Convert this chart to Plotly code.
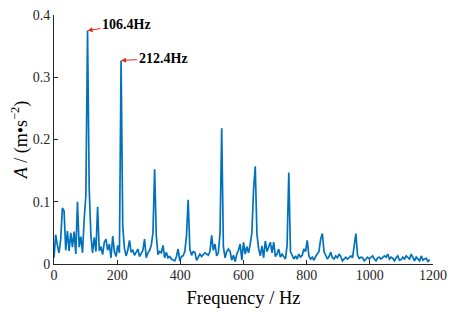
import numpy as np
import plotly.graph_objects as go

# Spectrum data (frequency resolution ~5.31 Hz)
df_hz = 5.31
amplitude = [
    0.010, 0.047, 0.030, 0.018, 0.040, 0.090, 0.085, 0.022, 0.053, 0.021,
    0.050, 0.027, 0.052, 0.016, 0.100, 0.027, 0.044, 0.018, 0.072, 0.110,
    0.375, 0.120, 0.045, 0.018, 0.043, 0.020, 0.092, 0.021, 0.028, 0.015,
    0.035, 0.040, 0.022, 0.032, 0.010, 0.045, 0.020, 0.012, 0.030, 0.018,
    0.327, 0.060, 0.025, 0.013, 0.022, 0.038, 0.019, 0.022, 0.014, 0.020,
    0.024, 0.012, 0.018, 0.022, 0.040, 0.010, 0.018, 0.022, 0.030, 0.050,
    0.152, 0.045, 0.015, 0.020, 0.018, 0.030, 0.010, 0.019, 0.010, 0.012,
    0.008, 0.006, 0.005, 0.012, 0.024, 0.005, 0.012, 0.013, 0.020, 0.045,
    0.103, 0.024, 0.014, 0.020, 0.019, 0.006, 0.012, 0.016, 0.012, 0.015,
    0.018, 0.016, 0.014, 0.020, 0.046, 0.022, 0.032, 0.013, 0.018, 0.050,
    0.218, 0.028, 0.010, 0.020, 0.024, 0.020, 0.006, 0.014, 0.004, 0.016,
    0.022, 0.032, 0.006, 0.035, 0.016, 0.028, 0.018, 0.032, 0.050, 0.120,
    0.157, 0.048, 0.025, 0.013, 0.029, 0.010, 0.037, 0.020, 0.028, 0.035,
    0.018, 0.035, 0.012, 0.016, 0.024, 0.011, 0.016, 0.012, 0.008, 0.030,
    0.147, 0.020, 0.013, 0.008, 0.013, 0.008, 0.016, 0.011, 0.014, 0.024,
    0.020, 0.038, 0.013, 0.008, 0.011, 0.006, 0.012, 0.016, 0.020, 0.040,
    0.049, 0.020, 0.013, 0.008, 0.012, 0.019, 0.010, 0.008, 0.013, 0.010,
    0.016, 0.012, 0.005, 0.009, 0.011, 0.008, 0.010, 0.013, 0.010, 0.030,
    0.049, 0.014, 0.009, 0.011, 0.010, 0.005, 0.009, 0.011, 0.008, 0.010,
    0.013, 0.008, 0.005, 0.010, 0.011, 0.008, 0.010, 0.013, 0.011, 0.016,
    0.008, 0.011, 0.009, 0.005, 0.010, 0.013, 0.006, 0.007, 0.011, 0.008,
    0.013, 0.010, 0.008, 0.016, 0.009, 0.005, 0.011, 0.007, 0.005, 0.013,
    0.006, 0.008, 0.009, 0.004, 0.007,
]
frequency = [round(i * df_hz, 2) for i in range(len(amplitude))]

peak_index = [20, 40]
peak_labels = ["106.4Hz", "212.4Hz"]
peak_text_offset = [(39, -6), (42, -2)]

x_ticks = [0, 200, 400, 600, 800, 1000, 1200]
y_ticks = [0, 0.1, 0.2, 0.3, 0.4]

fig = go.Figure()
fig.add_trace(go.Scatter(
    x=frequency, y=amplitude, mode="lines",
    line=dict(color="#0072BD", width=1.7),
    showlegend=False, hoverinfo="skip",
))

for idx, lab, (ax, ay) in zip(peak_index, peak_labels, peak_text_offset):
    fig.add_annotation(
        x=frequency[idx], y=amplitude[idx], xref="x", yref="y",
        text=f"<b>{lab}</b>", showarrow=True,
        ax=ax, ay=ay, axref="pixel", ayref="pixel",
        arrowhead=2, arrowsize=1, arrowwidth=1, arrowcolor="#e8281e",
        font=dict(family="Liberation Serif", size=14, color="black"),
    )

font_family = "Liberation Serif"
fig.update_layout(
    width=451, height=306,
    margin=dict(l=46, r=26, t=7, b=50),
    paper_bgcolor="white", plot_bgcolor="white",
    font=dict(family=font_family, color="#262626"),
    xaxis=dict(
        range=[0, 1200], tickvals=x_ticks, ticktext=[str(v) for v in x_ticks],
        showline=True, linecolor="#262626", linewidth=1, mirror=False,
        ticks="inside", ticklen=4, tickcolor="#262626",
        showgrid=False, zeroline=False, automargin=False,
        ticklabelstandoff=-2, ticklabeloverflow="allow",
        tickfont=dict(size=14, family=font_family, color="#262626"),
        title=dict(text="Frequency / Hz", font=dict(size=18.5, family=font_family, color="black"), standoff=9),
    ),
    yaxis=dict(
        range=[0, 0.4], tickvals=y_ticks, ticktext=["0", "0.1", "0.2", "0.3", "0.4"],
        showline=True, linecolor="#262626", linewidth=1, mirror=False,
        ticks="inside", ticklen=4, tickcolor="#262626",
        showgrid=False, zeroline=False, automargin=False,
        ticklabeloverflow="allow",
        tickfont=dict(size=14, family=font_family, color="#262626"),
        title=dict(text="<i>A</i> / (m•s<sup>−2</sup>)", font=dict(size=18, family=font_family, color="black"), standoff=0),
    ),
)

fig.write_html("out.html")
